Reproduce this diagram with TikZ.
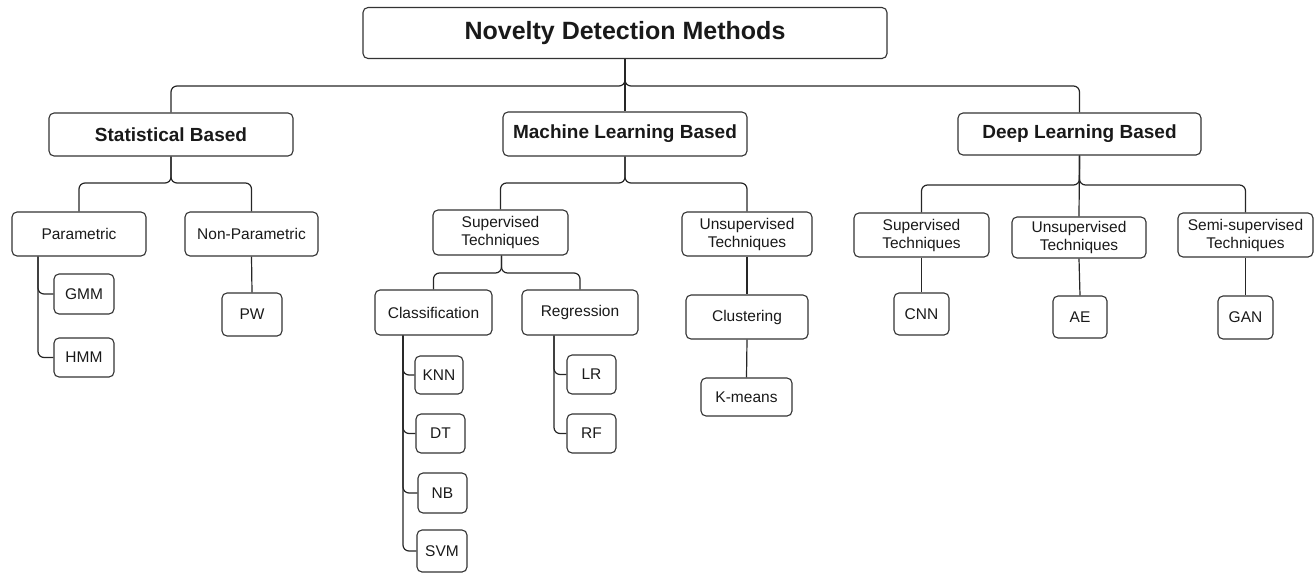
\documentclass[tikz,border=0pt]{standalone}
\usepackage{fontspec}
\setmainfont{Liberation Sans}
\usetikzlibrary{calc}
\begin{document}
\begin{tikzpicture}[x=1pt,y=-1pt,
  box/.style 2 args={draw=black!80, line width=1.1pt, rounded corners=5pt,
    minimum width=#1, minimum height=#2, inner sep=0pt, align=center,
    text=black!90, font=\fontsize{15.5}{18}\selectfont},
  titlebox/.style={font=\fontsize{25}{28}\selectfont\bfseries},
  headbox/.style={font=\fontsize{19}{22}\selectfont\bfseries},
  conn/.style={draw=black!85, line width=1.2pt, rounded corners=6pt}]
\useasboundingbox (0,0) rectangle (1315,574);

% root and main branches
\node[box={524pt}{51pt}, titlebox] (root) at (625,33) {Novelty Detection Methods};
\node[box={244pt}{43pt}, headbox] (stat) at (171,134.5) {Statistical Based};
\node[box={244pt}{44pt}, headbox] (ml) at (625,134) {Machine Learning Based};
\node[box={243pt}{42pt}, headbox] (dl) at (1079.5,134) {Deep Learning Based};

% statistical methods
\node[box={134pt}{44pt}] (param) at (79,234) {Parametric};
\node[box={133pt}{44pt}] (nonparam) at (251.5,234) {Non-Parametric};
\node[box={60pt}{40pt}] (gmm) at (84,294) {GMM};
\node[box={60pt}{39pt}] (hmm) at (84,357.5) {HMM};
\node[box={60pt}{43pt}] (pw) at (252,314.5) {PW};

% machine learning methods
\node[box={135pt}{45pt}] (mlsup) at (500.5,232.5) {Supervised\\Techniques};
\node[box={130pt}{44pt}] (mlunsup) at (747,234) {Unsupervised\\Techniques};
\node[box={117pt}{45pt}] (classif) at (433.5,312.5) {Classification};
\node[box={116pt}{45pt}] (regr) at (580,312.5) {Regression};
\node[box={122pt}{44pt}] (clust) at (747,317) {Clustering};
\node[box={91pt}{38pt}] (kmeans) at (746.5,397) {K-means};
\node[box={48pt}{38pt}] (knn) at (439,375) {KNN};
\node[box={49pt}{39pt}] (dt) at (440.5,433.5) {DT};
\node[box={49pt}{40pt}] (nb) at (442.5,493) {NB};
\node[box={50pt}{42pt}] (svm) at (442,551) {SVM};
\node[box={49pt}{39pt}] (lr) at (591.5,374.5) {LR};
\node[box={49pt}{39pt}] (rf) at (591.5,433.5) {RF};

% deep learning methods
\node[box={135pt}{44pt}] (dlsup) at (921.5,235) {Supervised\\Techniques};
\node[box={134pt}{41pt}] (dlunsup) at (1079,237.5) {Unsupervised\\Techniques};
\node[box={135pt}{44pt}] (dlsemi) at (1245.5,235) {Semi-supervised\\Techniques};
\node[box={55pt}{42pt}] (cnn) at (921.5,314) {CNN};
\node[box={54pt}{42pt}] (ae) at (1080,317) {AE};
\node[box={55pt}{43pt}] (gan) at (1245.5,317.5) {GAN};

% bus heights
\coordinate (bus0) at (0,86);
\coordinate (busS) at (0,183);
\coordinate (busM) at (0,183);
\coordinate (busMS) at (0,273);
\coordinate (busD) at (0,185);

% root connectors
\draw[conn] (root.south) -- (root.south |- bus0) -| (stat.north);
\draw[conn] (root.south) -- (root.south |- bus0) -| (dl.north);
\draw[conn] (root.south) -- (ml.north);

% statistical connectors
\draw[conn] (stat.south) -- (stat.south |- busS) -| (param.north);
\draw[conn] (stat.south) -- (stat.south |- busS) -| (nonparam.north);
\draw[conn] ([xshift=-41pt]param.south) |- (gmm.west);
\draw[conn] ([xshift=-41pt]param.south) |- (hmm.west);
\draw[conn] (nonparam.south) -- (pw.north);

% machine learning connectors
\draw[conn] (ml.south) -- (ml.south |- busM) -| (mlsup.north);
\draw[conn] (ml.south) -- (ml.south |- busM) -| (mlunsup.north);
\draw[conn] ([xshift=1pt]mlsup.south) -- ([xshift=1pt]mlsup.south |- busMS) -| (classif.north);
\draw[conn] ([xshift=1pt]mlsup.south) -- ([xshift=1pt]mlsup.south |- busMS) -| (regr.north);
\draw[conn] ([xshift=-30.5pt]classif.south) |- (knn.west);
\draw[conn] ([xshift=-30.5pt]classif.south) |- (dt.west);
\draw[conn] ([xshift=-30.5pt]classif.south) |- (nb.west);
\draw[conn] ([xshift=-30.5pt]classif.south) |- (svm.west);
\draw[conn] ([xshift=-26pt]regr.south) |- (lr.west);
\draw[conn] ([xshift=-26pt]regr.south) |- (rf.west);
\draw[conn] (mlunsup.south) -- (clust.north);
\draw[conn] (clust.south) -- (kmeans.north);

% deep learning connectors
\draw[conn] (dl.south) -- (dl.south |- busD) -| (dlsup.north);
\draw[conn] (dl.south) -- (dl.south |- busD) -| (dlsemi.north);
\draw[conn] (dl.south) -- (dlunsup.north);
\draw[conn] (dlsup.south) -- (cnn.north);
\draw[conn] (dlunsup.south) -- (ae.north);
\draw[conn] (dlsemi.south) -- (gan.north);
\end{tikzpicture}
\end{document}
